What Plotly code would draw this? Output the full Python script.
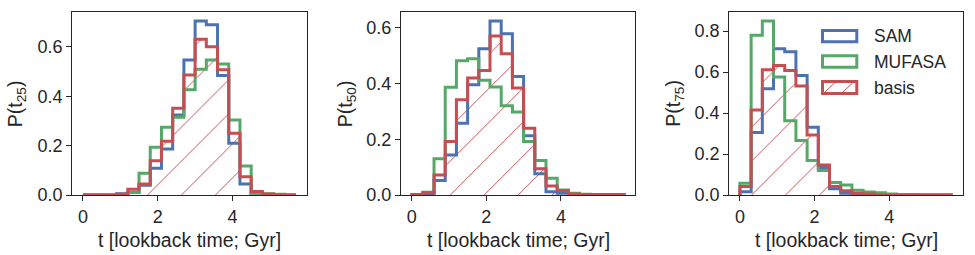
import numpy as np
import plotly.graph_objects as go

# ---------------- data ----------------
bin_edges = [0.0, 0.3, 0.6, 0.9, 1.2, 1.5, 1.8, 2.1, 2.4, 2.7, 3.0, 3.3, 3.6,
             3.9, 4.2, 4.5, 4.8, 5.1, 5.4, 5.7]

# P(t25)
t25_sam = [0, 0, 0, 0.005, 0.01, 0.04, 0.108, 0.186, 0.324, 0.547, 0.705, 0.69,
           0.484, 0.21, 0.045, 0.007, 0, 0, 0]
t25_mufasa = [0, 0, 0, 0.003, 0.01, 0.088, 0.193, 0.274, 0.315, 0.426, 0.51, 0.547,
              0.531, 0.304, 0.118, 0.007, 0.005, 0.003, 0]
t25_basis = [0, 0, 0, 0.003, 0.023, 0.045, 0.139, 0.218, 0.351, 0.486, 0.631, 0.601,
             0.507, 0.25, 0.074, 0.014, 0.004, 0, 0]

# P(t50)
t50_sam = [0, 0.005, 0.052, 0.144, 0.258, 0.396, 0.525, 0.625, 0.579, 0.426, 0.213,
           0.076, 0.012, 0.006, 0, 0, 0, 0, 0]
t50_mufasa = [0, 0.01, 0.13, 0.387, 0.482, 0.489, 0.412, 0.388, 0.321, 0.298, 0.192,
              0.124, 0.06, 0.018, 0.006, 0.003, 0, 0, 0]
t50_basis = [0.002, 0.008, 0.072, 0.192, 0.342, 0.42, 0.447, 0.571, 0.507, 0.384, 0.24,
             0.094, 0.032, 0.016, 0.004, 0.002, 0.002, 0.002, 0.002]

# P(t75)
t75_sam = [0.016, 0.305, 0.518, 0.713, 0.699, 0.583, 0.33, 0.134, 0.031, 0.008, 0.005,
           0, 0, 0, 0, 0, 0, 0, 0]
t75_mufasa = [0.057, 0.779, 0.849, 0.576, 0.362, 0.266, 0.168, 0.12, 0.061, 0.049, 0.023,
              0.015, 0.011, 0.005, 0.003, 0.002, 0, 0, 0]
t75_basis = [0.041, 0.415, 0.611, 0.632, 0.608, 0.532, 0.293, 0.146, 0.041, 0.021, 0.008,
             0.005, 0, 0, 0, 0, 0, 0, 0]

series_names = ["SAM", "MUFASA", "basis"]
panel_labels = ["25", "50", "75"]
x_ticks = [0, 2, 4]
y_ticks = [[0, 0.2, 0.4, 0.6], [0, 0.2, 0.4, 0.6], [0, 0.2, 0.4, 0.6, 0.8]]
x_title = "t [lookback time; Gyr]"

# ---------------- style ----------------
W, H = 975, 255
FONT = "Liberation Sans, Arial, sans-serif"
TXT = "#262626"
COLORS = {"SAM": "#4C72B0", "MUFASA": "#55A868", "basis": "#C44E52"}
panels = [
    (t25_sam, t25_mufasa, t25_basis),
    (t50_sam, t50_mufasa, t50_basis),
    (t75_sam, t75_mufasa, t75_basis),
]
# pixel boxes of the axes
px_left = [72.3, 401.0, 729.3]
px_right = [306.7, 635.0, 963.3]
px_top, px_bottom = 12.3, 195.0
ytitle_px = [16.5, 346.5, 675.0]
hatch_shift_px = [13.6, 5.6, -1.4]   # phase of the hatch pattern
HATCH = 24


def px2x(p):
    return p / W


def px2y(p):
    return 1 - p / H


def aid(n):
    return "" if n == 1 else str(n)


edges = np.array(bin_edges)
centers = (edges[:-1] + edges[1:]) / 2
widths = np.diff(edges)

fig = go.Figure()
layout = {}
annotations = []
shapes = []

for i, vals in enumerate(panels):
    hx = aid(i + 1)        # hatch subplot (drawn first, below)
    ax = aid(i + 4)        # main subplot (drawn on top)
    xa, ya = "x" + ax, "y" + ax
    ymax = max(max(v) for v in vals) * 1.05
    xmin, xmax = edges[0], edges[-1]
    pad = 0.05 * (xmax - xmin)
    x_lo, x_hi = xmin - pad, xmax + pad
    ppu = (px_right[i] - px_left[i]) / (x_hi - x_lo)

    # hatched fill for basis (on an invisible twin axis to set hatch phase)
    basis = np.array(vals[2], dtype=float)
    fig.add_trace(go.Bar(
        x=centers, y=basis, width=widths, xaxis="x" + hx, yaxis="y" + hx,
        marker=dict(color="rgba(0,0,0,0)", line=dict(width=0),
                    pattern=dict(shape="/", fgcolor=COLORS["basis"], fgopacity=1,
                                 bgcolor="rgba(0,0,0,0)", size=HATCH, solidity=0.04)),
        showlegend=False, hoverinfo="skip"))
    d = hatch_shift_px[i]
    layout["xaxis" + hx] = dict(
        visible=False, automargin=False, anchor="y" + hx,
        domain=[px2x(px_left[i] - d), px2x(px_right[i])],
        range=[x_lo - d / ppu, x_hi])
    layout["yaxis" + hx] = dict(
        visible=False, automargin=False, anchor="x" + hx,
        domain=[px2y(px_bottom), px2y(px_top)], range=[0, ymax])

    for name, v in zip(series_names, vals):
        v = np.array(v, dtype=float)
        xs = np.concatenate([[edges[0]], edges])
        ys = np.concatenate([[0.0], v, [0.0]])
        fig.add_trace(go.Scatter(
            x=xs, y=ys, mode="lines", line=dict(color=COLORS[name], width=3, shape="hv"),
            xaxis=xa, yaxis=ya, showlegend=False, name=name))

    axis_common = dict(
        showline=True, linecolor=TXT, linewidth=1.25, mirror=True,
        ticks="outside", ticklen=5, tickwidth=1.25, tickcolor=TXT,
        showgrid=False, zeroline=False, automargin=False,
        tickfont=dict(family=FONT, size=18, color=TXT),
    )
    layout["xaxis" + ax] = dict(
        axis_common, domain=[px2x(px_left[i]), px2x(px_right[i])],
        range=[x_lo, x_hi], tickvals=x_ticks, anchor=ya)
    layout["yaxis" + ax] = dict(
        axis_common, domain=[px2y(px_bottom), px2y(px_top)],
        range=[0, ymax], tickvals=y_ticks[i], tickformat=".1f", anchor=xa)

    annotations.append(dict(
        text=x_title, xref="paper", yref="paper",
        x=px2x((px_left[i] + px_right[i]) / 2), y=px2y(240),
        xanchor="center", yanchor="middle", showarrow=False,
        font=dict(family=FONT, size=19.5, color=TXT)))
    annotations.append(dict(
        text="P(t<sub>" + panel_labels[i] + "</sub>)", xref="paper", yref="paper",
        x=px2x(ytitle_px[i]), y=px2y((px_top + px_bottom) / 2),
        xanchor="center", yanchor="middle", textangle=-90, showarrow=False,
        font=dict(family=FONT, size=19.5, color=TXT)))

# ---------------- legend (drawn in panel 3) ----------------
leg_rects = [(822.5, 30.5, 856.8, 41.8), (822.5, 55.8, 856.8, 67.2), (822.5, 81.5, 856.8, 93.5)]
for name, (x0, y0, x1, y1) in zip(series_names, leg_rects):
    shapes.append(dict(type="rect", xref="paper", yref="paper",
                       x0=px2x(x0), x1=px2x(x1), y0=px2y(y1), y1=px2y(y0),
                       line=dict(color=COLORS[name], width=3), fillcolor="rgba(0,0,0,0)"))
    annotations.append(dict(
        text=name, xref="paper", yref="paper", x=px2x(872.0), y=px2y((y0 + y1) / 2),
        xanchor="left", yanchor="middle", showarrow=False,
        font=dict(family=FONT, size=17.5, color=TXT)))
# hatch inside basis legend patch
for (hx0, hy0, hx1, hy1) in [(824.0, 93.0, 835.5, 82.0), (842.0, 93.0, 853.5, 82.0)]:
    shapes.append(dict(type="line", xref="paper", yref="paper",
                       x0=px2x(hx0), y0=px2y(hy0), x1=px2x(hx1), y1=px2y(hy1),
                       line=dict(color=COLORS["basis"], width=1)))

layout.update(dict(
    width=W, height=H, margin=dict(l=0, r=0, t=0, b=0, autoexpand=False),
    paper_bgcolor="white", plot_bgcolor="rgba(0,0,0,0)",
    bargap=0, barmode="overlay", showlegend=False,
    annotations=annotations, shapes=shapes,
    font=dict(family=FONT, color=TXT),
))
fig.update_layout(**layout)
fig.write_html(
    "out.html",
    config={"displayModeBar": False},
    post_script="document.body.style.margin='0';document.body.style.overflow='hidden';",
)
